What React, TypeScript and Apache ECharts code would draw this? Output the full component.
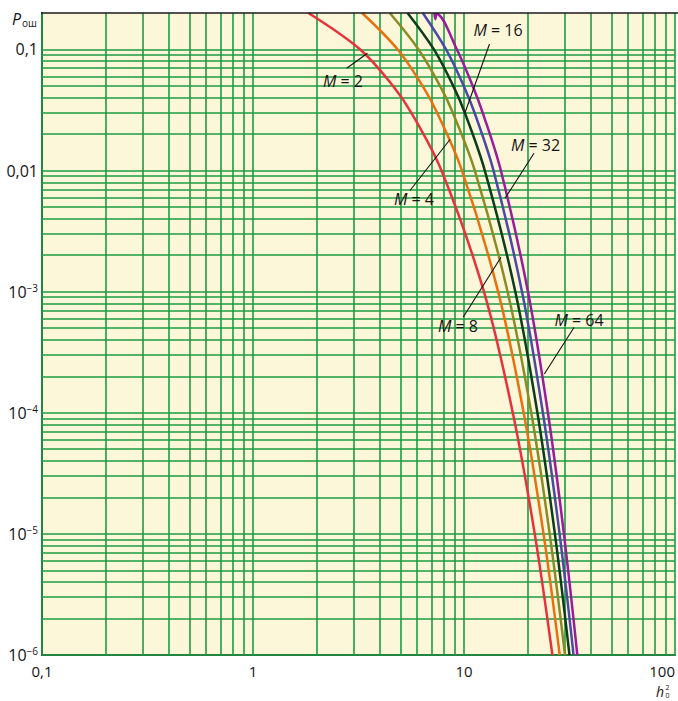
import React, { useEffect, useRef } from "react";
import * as echarts from "echarts";

// Error probability levels (y) and the h² values (x) read for each curve
const probLevels = [0.2, 0.1, 0.05, 0.03, 0.01, 1e-3, 1e-4, 1e-5, 1e-6];
const h2M2 = [1.83, 3.22, 4.61, 5.63, 7.82, 12.43, 17.03, 21.64, 26.24];
const h2M4 = [3.29, 4.85, 6.36, 7.46, 9.78, 14.51, 19.18, 23.82, 28.43];
const h2M8 = [4.45, 6.09, 7.7, 8.85, 11.25, 16.09, 20.83, 25.47, 30.11];
const h2M16 = [5.4, 7.2, 8.89, 10.09, 12.55, 17.51, 22.28, 26.96, 31.62];
const h2M32 = [6.38, 8.22, 9.97, 11.22, 13.8, 18.83, 23.65, 28.38, 33.05];
// M = 64 has a small hook where it enters at the top
const probM64 = [0.2, 0.178, 0.196, 0.1, 0.05, 0.03, 0.01, 1e-3, 1e-4, 1e-5, 1e-6];
const h2M64 = [7.24, 7.31, 7.42, 9.25, 11.0, 12.27, 14.95, 20.1, 24.99, 29.75, 34.44];

const curveNames = ["M = 2", "M = 4", "M = 8", "M = 16", "M = 32", "M = 64"];
const curveX = [h2M2, h2M4, h2M8, h2M16, h2M32, h2M64];
const curveY = [probLevels, probLevels, probLevels, probLevels, probLevels, probM64];
const curveColors = ["#e8323a", "#e8700e", "#8c8a24", "#0d3b1c", "#4b48a8", "#9a1c9c"];

// grid lines of the log paper
const xGridValues = [
  0.1, 0.2, 0.3, 0.4, 0.5, 0.6, 0.7, 0.8, 0.9,
  1, 2, 3, 4, 5, 6, 7, 8, 9,
  10, 20, 30, 40, 50, 60, 70, 80, 90, 100,
];
const yGridValues = [
  1e-6, 2e-6, 3e-6, 4e-6, 5e-6, 6e-6, 7e-6, 8e-6, 9e-6,
  1e-5, 2e-5, 3e-5, 4e-5, 5e-5, 6e-5, 7e-5, 8e-5, 9e-5,
  1e-4, 2e-4, 3e-4, 4e-4, 5e-4, 6e-4, 7e-4, 8e-4, 9e-4,
  1e-3, 2e-3, 3e-3, 4e-3, 5e-3, 6e-3, 7e-3, 8e-3, 9e-3,
  1e-2, 2e-2, 3e-2, 4e-2, 5e-2, 6e-2, 7e-2, 8e-2, 9e-2,
  0.1,
];
const xTickLabels: Record<number, string> = { [-1]: "0,1", 0: "1", 1: "10", 2: "100" };
const yTickLabels: Record<number, string> = {
  [-1]: "0,1",
  [-2]: "0,01",
  [-3]: "{n|10}{e|−3}",
  [-4]: "{n|10}{e|−4}",
  [-5]: "{n|10}{e|−5}",
  [-6]: "{n|10}{e|−6}",
};

const FONT = '"Open Sans", "Noto Sans", "DejaVu Sans", sans-serif';
const GRID_GREEN = "#1b9c42";
const TEXT = "#151515";

function labelText(x: number, y: number, name: string) {
  const parts = name.split(" = ");
  return {
    type: "text",
    x,
    y,
    z: 100,
    style: {
      text: "{i|" + parts[0] + "}{n| = " + parts[1] + "}",
      align: "center",
      verticalAlign: "middle",
      rich: {
        i: { fontFamily: FONT, fontSize: 16, fontStyle: "italic", fill: TEXT },
        n: { fontFamily: FONT, fontSize: 16, fill: TEXT },
      },
    },
  };
}

function leader(x1: number, y1: number, x2: number, y2: number) {
  return {
    type: "line",
    z: 100,
    shape: { x1, y1, x2, y2 },
    style: { stroke: "#111", lineWidth: 1.1 },
  };
}

export default function App() {
  const ref = useRef<HTMLDivElement>(null);

  useEffect(() => {
    if (!ref.current) return;
    const chart = echarts.init(ref.current, null, { renderer: "svg" });

    const curveSeries = curveX.map((xs, i) => ({
      name: curveNames[i],
      type: "line",
      smooth: 0.35,
      showSymbol: false,
      symbol: "none",
      silent: true,
      z: 10,
      lineStyle: { color: curveColors[i], width: 2.5 },
      itemStyle: { color: curveColors[i] },
      data: xs.map((x, j) => [x, curveY[i][j]]),
    }));

    const gridSeries = {
      name: "grid",
      type: "line",
      silent: true,
      symbol: "none",
      z: 1,
      data: [] as any[],
      lineStyle: { opacity: 0 },
      markLine: {
        silent: true,
        precision: 12,
        symbol: ["none", "none"],
        animation: false,
        label: { show: false },
        emphasis: { disabled: true },
        lineStyle: { color: GRID_GREEN, width: 1.6, type: "solid" },
        data: [
          ...xGridValues.map((v) => ({ xAxis: v })),
          ...yGridValues.map((v) => ({ yAxis: v })),
        ],
      },
    };

    const option: any = {
      animation: false,
      backgroundColor: "#ffffff",
      grid: {
        left: 42,
        top: 13,
        right: 2,
        bottom: 46,
        show: true,
        backgroundColor: "#fdf7da",
        borderWidth: 0,
      },
      xAxis: {
        type: "log",
        logBase: 10,
        min: 0.1,
        max: 100,
        axisLine: { show: true, onZero: false, lineStyle: { color: "#3d3d3d", width: 2 } },
        axisTick: { show: false },
        splitLine: { show: false },
        axisLabel: {
          margin: 8,
          fontFamily: FONT,
          fontSize: 15,
          lineHeight: 15,
          color: TEXT,
          alignMaxLabel: "right",
          formatter: (v: number) => {
            const e = Math.log10(v);
            const r = Math.round(e);
            if (Math.abs(e - r) > 0.01) return "";
            return xTickLabels[r] ?? "";
          },
        },
      },
      yAxis: {
        type: "log",
        logBase: 10,
        min: 1e-6,
        max: 0.2,
        axisLine: { show: true, onZero: false, lineStyle: { color: "#3d3d3d", width: 2 } },
        axisTick: { show: false },
        splitLine: { show: false },
        axisLabel: {
          margin: 4,
          fontFamily: FONT,
          fontSize: 16,
          color: TEXT,
          formatter: (v: number) => {
            const e = Math.log10(v);
            const r = Math.round(e);
            if (Math.abs(e - r) > 0.01) return "";
            return yTickLabels[r] ?? "";
          },
          rich: {
            n: { fontFamily: FONT, fontSize: 16, color: TEXT, lineHeight: 18 },
            e: { fontFamily: FONT, fontSize: 10, color: TEXT, verticalAlign: "top", lineHeight: 10 },
          },
        },
      },
      series: [gridSeries, ...curveSeries],
      graphic: [
        {
          type: "line",
          z: 50,
          shape: { x1: 41, y1: 13, x2: 678, y2: 13 },
          style: { stroke: "#1a1a1a", lineWidth: 1.6 },
        },
        labelText(343, 81, curveNames[0]),
        leader(346.7, 68.3, 367.5, 53.3),
        labelText(414, 199, curveNames[1]),
        leader(410, 190.5, 450, 139.5),
        labelText(458, 326, curveNames[2]),
        leader(463.3, 317, 501, 257.3),
        labelText(498, 30, curveNames[3]),
        leader(489.5, 44, 465, 112.7),
        labelText(535.5, 144.5, curveNames[4]),
        leader(534, 153.3, 505, 198.3),
        labelText(579, 320, curveNames[5]),
        leader(574, 327.5, 544.3, 374),
        {
          type: "text",
          x: 12,
          y: 19,
          style: {
            text: "P",
            fontFamily: FONT,
            fontSize: 16,
            fontStyle: "italic",
            fill: TEXT,
            verticalAlign: "middle",
          },
        },
        {
          type: "text",
          x: 22,
          y: 22.5,
          style: { text: "ош", fontFamily: FONT, fontSize: 10, fill: TEXT, verticalAlign: "middle" },
        },
        {
          type: "text",
          x: 656,
          y: 691.5,
          style: {
            text: "h",
            fontFamily: FONT,
            fontSize: 14,
            lineHeight: 13,
            fontStyle: "italic",
            fill: TEXT,
            verticalAlign: "middle",
          },
        },
        {
          type: "text",
          x: 665.5,
          y: 687.5,
          style: { text: "2", fontFamily: FONT, fontSize: 7, lineHeight: 7, fill: TEXT, verticalAlign: "middle" },
        },
        {
          type: "text",
          x: 665.5,
          y: 695.5,
          style: { text: "0", fontFamily: FONT, fontSize: 7, lineHeight: 7, fill: TEXT, verticalAlign: "middle" },
        },
      ],
    };

    chart.setOption(option);
    return () => {
      chart.dispose();
    };
  }, []);

  return (
    <div
      ref={ref}
      style={{ position: "fixed", left: 0, top: 0, width: 678, height: 701, background: "#fff" }}
    />
  );
}
